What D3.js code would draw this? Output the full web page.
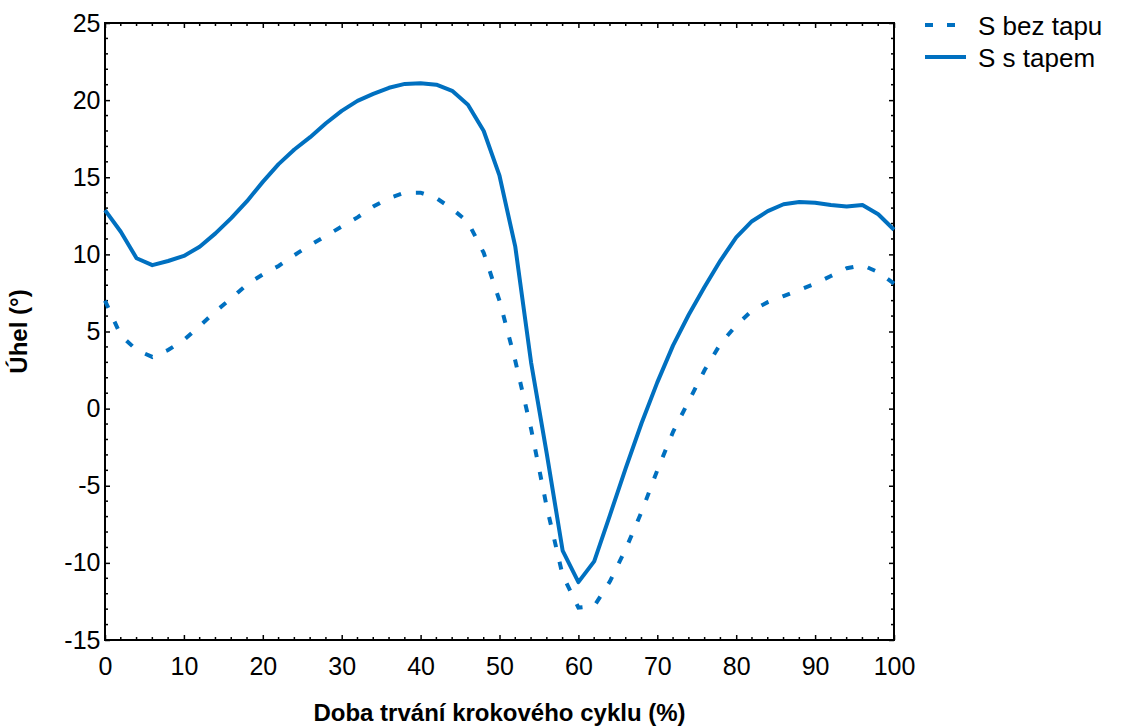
<!DOCTYPE html>
<html>
<head>
<meta charset="utf-8">
<script src="https://cdn.jsdelivr.net/npm/d3@7"></script>
<style>
    body { margin: 0; background: #fff; }
    text { font-family: "Liberation Sans", Arial, sans-serif; fill: #000; }
</style>
</head>
<body>
<div id="svganchor"></div>
<script>
let width = 1121, height = 726;

let margin = ({top: 23, right: 226, bottom: 86, left: 105});

// % of gait cycle
let cycle = [0, 2, 4, 6, 8, 10, 12, 14, 16, 18, 20, 22, 24, 26, 28, 30, 32, 34, 36, 38, 40,
    42, 44, 46, 48, 50, 52, 54, 56, 58, 60, 62, 64, 66, 68, 70, 72, 74, 76, 78, 80,
    82, 84, 86, 88, 90, 92, 94, 96, 98, 100];

let bezTapu = [7.0, 4.75, 3.8, 3.35, 3.8, 4.45, 5.35, 6.3, 7.15, 8.05, 8.7, 9.25, 9.95, 10.6, 11.2, 11.8,
    12.4, 13.1, 13.65, 14.0, 14.0, 13.65, 12.95, 12.1, 10.1, 7.0, 3.1, -1.3, -6.4, -10.8, -12.9,
    -12.8, -11.2, -9.1, -6.7, -4.0, -1.5, 0.5, 2.5, 4.2, 5.4, 6.35, 6.9, 7.3, 7.7, 8.1, 8.6,
    9.1, 9.3, 8.85, 8.1];

let sTapem = [12.87, 11.47, 9.75, 9.3, 9.57, 9.9, 10.5, 11.36, 12.35, 13.45, 14.7, 15.85, 16.8, 17.6,
    18.5, 19.3, 19.95, 20.4, 20.8, 21.05, 21.1, 21.0, 20.6, 19.7, 18.0, 15.1, 10.5, 3.0, -2.95,
    -9.2, -11.25, -9.9, -6.9, -3.85, -0.95, 1.7, 4.1, 6.1, 7.9, 9.6, 11.1, 12.15, 12.8, 13.25,
    13.4, 13.35, 13.2, 13.1, 13.2, 12.6, 11.6];

let seriesNames = ["S bez tapu", "S s tapem"];
let xTicks = [0, 10, 20, 30, 40, 50, 60, 70, 80, 90, 100];
let yTicks = [-15, -10, -5, 0, 5, 10, 15, 20, 25];

let blue = "#0070c0";
let dash = "8,15";

let xScale = d3.scaleLinear()
    .domain([0, 100])
    .range([margin.left, width - margin.right - 1]);

let yScale = d3.scaleLinear()
    .domain([-15, 25])
    .range([height - margin.bottom, margin.top]);

let svg = d3.select("#svganchor")
    .append("svg")
    .attr("width", width)
    .attr("height", height);

let x0 = xScale.range()[0], x1 = xScale.range()[1];
let y0 = yScale.range()[0], y1 = yScale.range()[1];

// minor ticks: every 2 on x, every 1 on y; all point inward
let xMinor = d3.range(0, 101, 2).filter(d => d % 10 !== 0);
let yMinor = d3.range(-15, 26, 1).filter(d => d % 5 !== 0);

function drawTicks(g, axisFn, scale, major, minor, showLabels) {
    let ax = axisFn(scale)
        .tickValues(major)
        .tickFormat(function(d) { return String(d); })   // plain hyphen minus
        .tickSizeInner(-5)
        .tickSizeOuter(0)
        .tickPadding(showLabels ? 17 : 0);
    g.call(ax);
    g.select(".domain").remove();
    g.selectAll(".tick line").attr("stroke", "#000").attr("stroke-width", 1.5);
    if (!showLabels) g.selectAll(".tick text").remove();
    else g.selectAll(".tick text")
        .attr("font-size", 25)
        .attr("font-family", "Liberation Sans, Arial, sans-serif")
        .attr("fill", "#000");

    let m = g.append("g");
    m.selectAll("line")
        .data(minor)
        .enter()
        .append("line")
        .attr("stroke", "#000")
        .attr("stroke-width", 1.5)
        .each(function(d) {
            let s = d3.select(this);
            if (axisFn === d3.axisBottom) s.attr("x1", scale(d)).attr("x2", scale(d)).attr("y1", 0).attr("y2", -3);
            if (axisFn === d3.axisTop) s.attr("x1", scale(d)).attr("x2", scale(d)).attr("y1", 0).attr("y2", 3);
            if (axisFn === d3.axisLeft) s.attr("y1", scale(d)).attr("y2", scale(d)).attr("x1", 0).attr("x2", 3);
            if (axisFn === d3.axisRight) s.attr("y1", scale(d)).attr("y2", scale(d)).attr("x1", 0).attr("x2", -3);
        });
}

let gX = svg.append("g")
    .attr("transform", `translate(0,${y0})`);
drawTicks(gX, d3.axisBottom, xScale, xTicks, xMinor, true);
gX.selectAll(".tick text").attr("dy", "0.71em");

let gXTop = svg.append("g")
    .attr("transform", `translate(0,${y1})`);
drawTicks(gXTop, d3.axisTop, xScale, xTicks, xMinor, false);

let gY = svg.append("g")
    .attr("transform", `translate(${x0},0)`);
drawTicks(gY, d3.axisLeft, yScale, yTicks, yMinor, true);
gY.selectAll(".tick text").attr("dx", "0.5em");

let gYRight = svg.append("g")
    .attr("transform", `translate(${x1},0)`);
drawTicks(gYRight, d3.axisRight, yScale, yTicks, yMinor, false);

// frame
svg.append("rect")
    .attr("x", x0)
    .attr("y", y1)
    .attr("width", x1 - x0)
    .attr("height", y0 - y1)
    .attr("fill", "none")
    .attr("stroke", "#000")
    .attr("stroke-width", 2);

let line = d3.line()
    .x(function(d) { return xScale(d[0]); })
    .y(function(d) { return yScale(d[1]); });

svg.append("path")
    .datum(d3.zip(cycle, bezTapu))
    .attr("d", line)
    .attr("fill", "none")
    .attr("stroke", blue)
    .attr("stroke-width", 4)
    .attr("stroke-dasharray", dash);

svg.append("path")
    .datum(d3.zip(cycle, sTapem))
    .attr("d", line)
    .attr("fill", "none")
    .attr("stroke", blue)
    .attr("stroke-width", 4)
    .attr("stroke-linejoin", "round");

// axis titles
svg.append("text")
    .attr("text-anchor", "middle")
    .attr("x", (x0 + x1) / 2)
    .attr("y", 721)
    .attr("font-size", 24)
    .attr("font-weight", "bold")
    .text("Doba trvání krokového cyklu (%)");

svg.append("text")
    .attr("text-anchor", "middle")
    .attr("transform", `translate(27,${(y0 + y1) / 2}) rotate(-90)`)
    .attr("font-size", 24)
    .attr("font-weight", "bold")
    .text("Úhel (°)");

// legend
let legend = svg.append("g")
    .selectAll("g")
    .data(seriesNames)
    .enter()
    .append("g")
    .attr("transform", function(d, i) { return `translate(925,${25 + i * 32})`; });

legend.append("line")
    .attr("x1", 0)
    .attr("x2", 41)
    .attr("y1", 0)
    .attr("y2", 0)
    .attr("stroke", blue)
    .attr("stroke-width", 4)
    .attr("stroke-dasharray", function(d, i) { return i === 0 ? "8,14" : null; });

legend.append("text")
    .attr("x", 53)
    .attr("y", 10)
    .attr("font-size", 26)
    .text(function(d) { return d; });
</script>
</body>
</html>
